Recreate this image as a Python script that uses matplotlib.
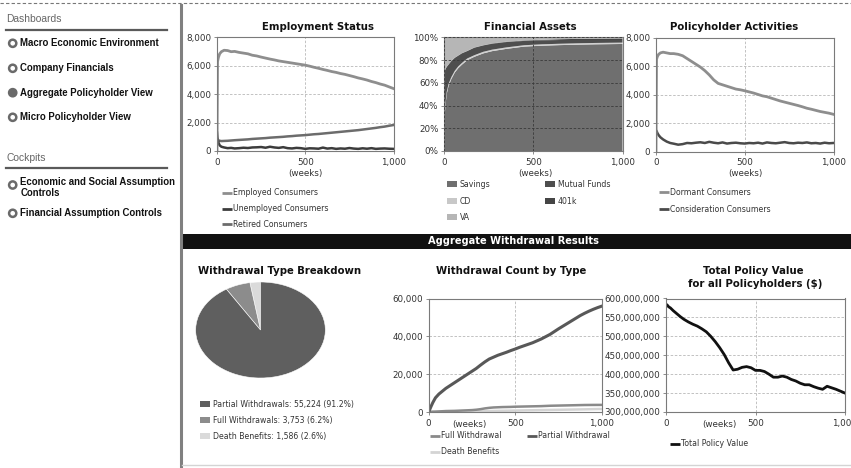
import matplotlib
matplotlib.use("Agg")
import matplotlib.pyplot as plt
from matplotlib.patches import Circle, Rectangle
from matplotlib.ticker import FuncFormatter
import numpy as np

# ---------------- data ----------------
weeks = [0, 3, 8, 15, 25, 40, 60, 80, 100,
         125, 150, 175, 200, 225, 250, 275, 300, 325,
         350, 375, 400, 425, 450, 475, 500, 525, 550,
         575, 600, 625, 650, 675, 700, 725, 750, 775,
         800, 825, 850, 875, 900, 925, 950, 975, 1000]

employed = [0, 6300, 6600, 6850, 7000, 7100, 7080, 7000, 7020,
            6950, 6900, 6850, 6750, 6700, 6620, 6550, 6480, 6420,
            6350, 6300, 6250, 6200, 6150, 6100, 6050, 5980, 5900,
            5830, 5750, 5680, 5600, 5540, 5460, 5400, 5320, 5240,
            5150, 5080, 5000, 4900, 4820, 4720, 4640, 4520, 4400]
unemployed = [1300, 900, 600, 400, 300, 250, 200, 220, 180,
              200, 230, 210, 250, 260, 280, 230, 300, 250,
              220, 270, 200, 180, 220, 200, 150, 190, 180,
              160, 240, 170, 200, 150, 180, 160, 210, 170,
              150, 190, 160, 200, 150, 170, 180, 160, 150]
retired = [900, 800, 750, 720, 700, 710, 720, 740, 760,
           780, 800, 820, 850, 870, 890, 910, 940, 960,
           980, 1000, 1030, 1050, 1080, 1100, 1120, 1150, 1180,
           1200, 1230, 1260, 1290, 1320, 1350, 1380, 1410, 1440,
           1470, 1510, 1550, 1590, 1630, 1680, 1720, 1780, 1830]

dormant = [0, 6500, 6700, 6850, 6950, 7000, 6950, 6900, 6900,
           6850, 6750, 6550, 6350, 6150, 5950, 5700, 5400, 5050,
           4800, 4700, 4600, 4500, 4400, 4350, 4280, 4200, 4120,
           4020, 3920, 3860, 3760, 3660, 3560, 3480, 3400, 3320,
           3240, 3150, 3050, 2980, 2900, 2820, 2760, 2700, 2620]
consideration = [1500, 1450, 1300, 1150, 1000, 850, 700, 600, 550,
                 480, 520, 600, 580, 620, 650, 600, 680, 620,
                 580, 640, 560, 600, 620, 580, 560, 600, 580,
                 620, 560, 640, 600, 580, 620, 660, 600, 580,
                 620, 600, 640, 580, 600, 560, 620, 580, 600]

fa_weeks = [0, 3, 8, 15, 25, 40, 60, 80, 100, 130,
            170, 220, 270, 350, 450, 550, 650, 750, 850, 1000]
savings = [20, 30, 40, 50, 57, 63, 69, 73, 76, 80,
           83, 86, 88, 90, 92, 92.8, 93.3, 93.7, 94, 94.3]
cd = [2, 2, 2, 2, 1.8, 1.8, 1.6, 1.6, 1.5, 1.5,
      1.4, 1.4, 1.3, 1.3, 1.2, 1.2, 1.2, 1.2, 1.2, 1.2]
mutual_funds = [46, 38, 30, 22, 17.2, 14.2, 11.4, 9.4, 8.5, 6.5,
                6.6, 5.6, 5.2, 4.7, 3.8, 3.5, 3.3, 2.9, 2.6, 2.3]
k401 = [0.2, 0.2, 0.2, 0.2, 0.2, 0.2, 0.2, 0.2, 0.2, 0.2,
        0.2, 0.2, 0.3, 0.3, 0.4, 0.5, 0.7, 1.0, 1.2, 1.4]
va = [31.8, 29.8, 27.8, 25.8, 23.8, 20.8, 17.8, 15.8, 13.8, 11.8,
      8.8, 6.8, 5.2, 3.7, 2.6, 2.0, 1.5, 1.2, 1.0, 0.8]

pie_labels = ["Death Benefits", "Full Withdrawals", "Partial Withdrawals"]
pie_values = [1586, 3753, 55224]

partial_wd = [0, 500, 1500, 3000, 5000, 7500, 9500, 11000, 12500,
              14000, 15500, 17000, 18500, 20000, 21500, 23000, 24800, 26500,
              28000, 29000, 30000, 30800, 31600, 32500, 33300, 34200, 35000,
              35800, 36600, 37600, 38600, 39800, 41000, 42500, 44000, 45400,
              46800, 48200, 49600, 51000, 52200, 53300, 54300, 55200, 56000]
full_wd = [0, 0, 50, 100, 150, 200, 300, 400, 500,
           550, 600, 700, 800, 900, 1000, 1200, 1500, 1900,
           2200, 2400, 2500, 2600, 2650, 2700, 2800, 2850, 2900,
           2950, 3000, 3050, 3100, 3200, 3300, 3350, 3400, 3450,
           3500, 3550, 3600, 3650, 3700, 3720, 3740, 3750, 3753]
death_wd = [0, 0, 20, 40, 60, 80, 100, 120, 150,
            180, 210, 250, 280, 320, 360, 400, 440, 480,
            520, 560, 600, 640, 680, 720, 760, 800, 840,
            880, 920, 960, 1000, 1040, 1080, 1120, 1160, 1200,
            1240, 1280, 1320, 1360, 1400, 1450, 1500, 1550, 1586]

policy_value_m = [585, 584, 582, 578, 575, 568, 560, 552, 545,
                  538, 532, 527, 520, 512, 500, 486, 470, 452,
                  430, 411, 413, 418, 420, 417, 410, 410, 407,
                  400, 392, 392, 395, 392, 386, 382, 376, 372,
                  372, 367, 363, 360, 368, 364, 360, 355, 350]

# ---------------- figure ----------------
W, H = 851, 468
fig = plt.figure(figsize=(W / 100, H / 100), dpi=100)
fig.patch.set_facecolor("white")
bg = fig.add_axes([0, 0, 1, 1])
bg.set_xlim(0, W)
bg.set_ylim(H, 0)
bg.axis("off")

TXT = "#333333"
LEG_FS = 5.6
TICK_FS = 6.3


def axbox(x0, y0, x1, y1):
    return fig.add_axes([x0 / W, 1 - y1 / H, (x1 - x0) / W, (y1 - y0) / H])


def comma(v, p):
    return f"{v:,.0f}"


def style(ax, yticks, fmt):
    ax.set_xlim(0, 1000)
    ax.set_xticks([0, 500, 1000])
    ax.set_xticklabels(["0", "500", "1,000"])
    ax.set_yticks(yticks)
    ax.set_ylim(yticks[0], yticks[-1])
    ax.yaxis.set_major_formatter(FuncFormatter(fmt))
    for s in ax.spines.values():
        s.set_color("#7a7a7a")
        s.set_linewidth(0.8)
    ax.tick_params(length=2.5, width=0.6, color="#7a7a7a", labelsize=TICK_FS,
                   labelcolor=TXT, pad=2.5)
    ax.tick_params(axis="y", pad=1.5)
    ax.grid(True, ls=(0, (3, 2)), color="#b8b8b8", lw=0.6)
    ax.set_axisbelow(True)


def title(x, y, s, fs=7.3):
    bg.text(x, y, s, ha="center", va="center", fontsize=fs, fontweight="bold", color="#111111")


def leg_line(x, y, color, label, lw=2.0):
    bg.plot([x, x + 10], [y, y], color=color, lw=lw, solid_capstyle="butt")
    bg.text(x + 11, y, label, ha="left", va="center", fontsize=LEG_FS, color=TXT)


def leg_box(x, y, color, label):
    bg.add_patch(Rectangle((x, y - 3), 10, 6, facecolor=color, edgecolor="none"))
    bg.text(x + 13, y, label, ha="left", va="center", fontsize=LEG_FS, color=TXT)


# ---------------- sidebar & frame ----------------
bg.plot([0, W], [2.5, 2.5], color="#777777", lw=0.8, ls=(0, (3, 2)))
bg.plot([180.5, 180.5], [5, H], color="#808080", lw=2.2)

SB_FONT = "Liberation Sans"
bg.text(6.5, 19, "Dashboards", ha="left", va="center", fontsize=7.4, color="#666666", family=SB_FONT)
bg.plot([6, 167], [29.5, 29.5], color="#5a5a5a", lw=1.6)
items = [(43.3, "Macro Economic Environment", False),
         (68.3, "Company Financials", False),
         (92.7, "Aggregate Policyholder View", True),
         (117.3, "Micro Policyholder View", False)]
for y, s, filled in items:
    bg.add_patch(Circle((12.7, y), 3.6, facecolor="#6a6a6a" if filled else "white",
                        edgecolor="#6a6a6a", lw=1.8))
    bg.text(20.5, y, s, ha="left", va="center", fontsize=6.9, fontweight="bold",
            color="#111111", family=SB_FONT)
bg.text(6.5, 157.7, "Cockpits", ha="left", va="center", fontsize=7.4, color="#666666", family=SB_FONT)
bg.plot([6, 167], [167.5, 167.5], color="#5a5a5a", lw=1.6)
bg.add_patch(Circle((12.7, 185), 3.6, facecolor="white", edgecolor="#6a6a6a", lw=1.8))
bg.text(20.5, 181.7, "Economic and Social Assumption", ha="left", va="center", fontsize=6.9,
        fontweight="bold", color="#111111", family=SB_FONT)
bg.text(20.5, 193.5, "Controls", ha="left", va="center", fontsize=6.9,
        fontweight="bold", color="#111111", family=SB_FONT)
bg.add_patch(Circle((12.7, 213.3), 3.6, facecolor="white", edgecolor="#6a6a6a", lw=1.8))
bg.text(20.5, 213.3, "Financial Assumption Controls", ha="left", va="center", fontsize=6.9,
        fontweight="bold", color="#111111", family=SB_FONT)

# black band
bg.add_patch(Rectangle((182, 233.5), W - 182, 15, facecolor="#111111", edgecolor="none"))
bg.text(513, 241, "Aggregate Withdrawal Results", ha="center", va="center", fontsize=7.1,
        fontweight="bold", color="white")
bg.plot([182, W], [464.5, 464.5], color="#d4d4d4", lw=1.0)

# ---------------- Employment Status ----------------
ax1 = axbox(217, 37.5, 393.5, 151)
ax1.plot(weeks, retired, color="#6c6c6c", lw=1.8)
ax1.plot(weeks, unemployed, color="#3c3c3c", lw=1.8)
ax1.plot(weeks, employed, color="#8e8e8e", lw=2.0)
style(ax1, [0, 2000, 4000, 6000, 8000], comma)
title(318, 26.7, "Employment Status")
bg.text(305, 173.3, "(weeks)", ha="center", va="center", fontsize=TICK_FS, color=TXT)
leg_line(222, 192.7, "#8e8e8e", "Employed Consumers")
leg_line(222, 208.7, "#3c3c3c", "Unemployed Consumers")
leg_line(222, 224.3, "#6c6c6c", "Retired Consumers")

# ---------------- Financial Assets ----------------
ax2 = axbox(444, 37.5, 622.5, 151)
ax2.stackplot(fa_weeks, savings, cd, mutual_funds, k401, va,
              colors=["#6f6f6f", "#d0d0d0", "#4e4e4e", "#454545", "#b6b6b6"], lw=0)
style(ax2, [0, 20, 40, 60, 80, 100], lambda v, p: f"{v:.0f}%")
ax2.grid(True, ls=(0, (3, 2)), color="#3a3a3a", lw=0.6)
ax2.set_axisbelow(False)
title(530, 26.7, "Financial Assets")
bg.text(535.5, 173.3, "(weeks)", ha="center", va="center", fontsize=TICK_FS, color=TXT)
leg_box(447, 184.3, "#6f6f6f", "Savings")
leg_box(545, 184.3, "#4e4e4e", "Mutual Funds")
leg_box(447, 201, "#c8c8c8", "CD")
leg_box(545, 201, "#454545", "401k")
leg_box(447, 217, "#b6b6b6", "VA")

# ---------------- Policyholder Activities ----------------
ax3 = axbox(656, 38, 833.5, 151.5)
ax3.plot(weeks, consideration, color="#4a4a4a", lw=1.8)
ax3.plot(weeks, dormant, color="#8e8e8e", lw=2.0)
style(ax3, [0, 2000, 4000, 6000, 8000], comma)
title(734, 26.7, "Policyholder Activities")
bg.text(745, 173.3, "(weeks)", ha="center", va="center", fontsize=TICK_FS, color=TXT)
leg_line(659, 192.3, "#8e8e8e", "Dormant Consumers")
leg_line(659, 209, "#4a4a4a", "Consideration Consumers")

# ---------------- Withdrawal Type Breakdown ----------------
axp = axbox(195, 281.5, 326, 378.5)
axp.pie(pie_values, colors=["#dadada", "#8c8c8c", "#5f5f5f"], startangle=90,
        counterclock=True, wedgeprops=dict(edgecolor="white", linewidth=0.4))
axp.set_aspect("auto")
axp.set_xlim(-1.01, 1.01)
axp.set_ylim(-1.01, 1.01)
title(280, 271.5, "Withdrawal Type Breakdown")
total = sum(pie_values)
leg_colors = {"Partial Withdrawals": "#5f5f5f", "Full Withdrawals": "#8c8c8c",
              "Death Benefits": "#dadada"}
for y, (lab, val) in zip([404, 420, 436], [(pie_labels[2], pie_values[2]),
                                           (pie_labels[1], pie_values[1]),
                                           (pie_labels[0], pie_values[0])]):
    leg_box(200, y, leg_colors[lab], f"{lab}: {val:,} ({val / total * 100:.1f}%)")

# ---------------- Withdrawal Count by Type ----------------
ax4 = axbox(428.5, 298.5, 602, 412)
ax4.plot(weeks, death_wd, color="#d4d4d4", lw=1.8)
ax4.plot(weeks, full_wd, color="#8a8a8a", lw=1.8)
ax4.plot(weeks, partial_wd, color="#585858", lw=2.2)
style(ax4, [0, 20000, 40000, 60000], comma)
title(511, 271.5, "Withdrawal Count by Type")
bg.text(469, 424.5, "(weeks)", ha="center", va="center", fontsize=TICK_FS, color=TXT)
leg_line(430, 435.5, "#8a8a8a", "Full Withdrawal")
leg_line(527, 435.5, "#585858", "Partial Withdrawal")
leg_line(430, 452, "#d4d4d4", "Death Benefits")

# ---------------- Total Policy Value ----------------
ax5 = axbox(666, 298.5, 845, 412)
ax5.plot(weeks, np.array(policy_value_m) * 1e6, color="#111111", lw=2.0)
style(ax5, [3e8, 3.5e8, 4e8, 4.5e8, 5e8, 5.5e8, 6e8], comma)
title(753, 271, "Total Policy Value")
title(755, 284.3, "for all Policyholders ($)")
bg.text(719, 425, "(weeks)", ha="center", va="center", fontsize=TICK_FS, color=TXT)
leg_line(670, 444, "#111111", "Total Policy Value")

fig.savefig("out.png", dpi=100, facecolor="white")
